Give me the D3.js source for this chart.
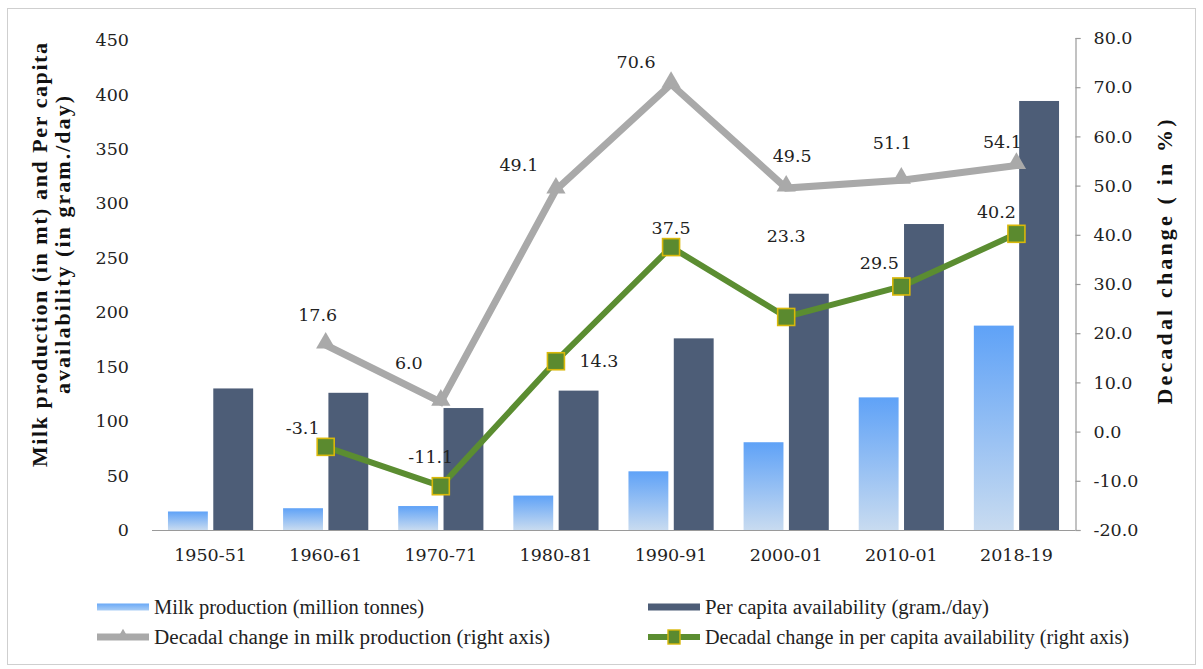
<!DOCTYPE html>
<html>
<head>
<meta charset="utf-8">
<script src="https://cdn.jsdelivr.net/npm/d3@7/dist/d3.min.js"></script>
<style>
  html, body { margin: 0; padding: 0; background: #fff; }
  svg { display: block; }
</style>
</head>
<body>
<svg id="chart" width="1203" height="669"></svg>
<script>
// Milk production and per capita availability in India, with decadal change
const years = ["1950-51", "1960-61", "1970-71", "1980-81", "1990-91", "2000-01", "2010-01", "2018-19"];
const milkProduction = [17.0, 20.0, 22.0, 31.6, 53.9, 80.6, 121.8, 187.7];
const perCapita = [130, 126, 112, 128, 176, 217, 281, 394];
const changeProduction = [null, 17.6, 6.0, 49.1, 70.6, 49.5, 51.1, 54.1];
const changePerCapita = [null, -3.1, -11.1, 14.3, 37.5, 23.3, 29.5, 40.2];
const leftTicks = [0, 50, 100, 150, 200, 250, 300, 350, 400, 450];
const rightTicks = [-20, -10, 0, 10, 20, 30, 40, 50, 60, 70, 80];

// label offsets (dx, dy) relative to each point, per series
const prodLabelOffset = [null, [-8, -30], [-32, -39], [-37, -25], [-35, -22], [6, -32], [-9, -37], [-14, -24]];
const capLabelOffset = [null, [-23, -19], [-10, -29], [43, 0], [0, -19], [0, -81], [-22, -24], [-20, -22]];

const svg = d3.select("#chart");
const tickFont = "'DejaVu Serif', serif";
const tickSize = 17.5;

const x = d3.scaleBand().domain(years).range([153, 1074]).paddingInner(0.26).paddingOuter(0.13);
const xCenter = d => x(d) + x.bandwidth() / 2;
const sub = d3.scaleBand().domain(["milk", "cap"]).range([0, x.bandwidth()]).paddingInner(0.12);
const yL = d3.scaleLinear().domain([0, 450]).range([530, 40]);
const yR = d3.scaleLinear().domain([-20, 80]).range([530, 38]);

// one-decimal format with a plain hyphen for negatives
const fmt1 = v => d3.format(".1f")(v).replace("\u2212", "-");

// outer frame
svg.append("rect").attr("x", 7.5).attr("y", 8.5).attr("width", 1188).attr("height", 656)
  .attr("fill", "none").attr("stroke", "#cfcfcf").attr("stroke-width", 1);

// gradient for milk production bars
const defs = svg.append("defs");
const grad = defs.append("linearGradient").attr("id", "milkGrad")
  .attr("x1", 0).attr("y1", 0).attr("x2", 0).attr("y2", 1);
grad.append("stop").attr("offset", "0%").attr("stop-color", "#5fa2f7");
grad.append("stop").attr("offset", "100%").attr("stop-color", "#c8dbf0");
const gradH = defs.append("linearGradient").attr("id", "milkGradLegend")
  .attr("x1", 0).attr("y1", 0).attr("x2", 0).attr("y2", 1);
gradH.append("stop").attr("offset", "0%").attr("stop-color", "#6aa9f7");
gradH.append("stop").attr("offset", "100%").attr("stop-color", "#a9cdf5");

// bars
const groups = svg.append("g").selectAll("g").data(years).join("g")
  .attr("transform", d => `translate(${x(d)},0)`);
groups.append("rect")
  .attr("x", sub("milk")).attr("width", sub.bandwidth())
  .attr("y", (d, i) => yL(milkProduction[i]))
  .attr("height", (d, i) => yL(0) - yL(milkProduction[i]))
  .attr("fill", "url(#milkGrad)");
groups.append("rect")
  .attr("x", sub("cap")).attr("width", sub.bandwidth())
  .attr("y", (d, i) => yL(perCapita[i]))
  .attr("height", (d, i) => yL(0) - yL(perCapita[i]))
  .attr("fill", "#4d5d77");

// baseline
svg.append("line").attr("x1", 152).attr("x2", 1075).attr("y1", yL(0) + 0.5).attr("y2", yL(0) + 0.5)
  .attr("stroke", "#9a9a9a").attr("stroke-width", 1.2);

// left axis (labels only)
const leftAxis = svg.append("g").attr("transform", "translate(153,0)")
  .call(d3.axisLeft(yL).tickValues(leftTicks).tickSize(0).tickPadding(24).tickFormat(d3.format("d")));
leftAxis.select(".domain").remove();
leftAxis.selectAll("text").attr("font-family", tickFont).attr("font-size", tickSize).attr("fill", "#222");

// right axis
const rightAxis = svg.append("g").attr("transform", "translate(1075.5,0)")
  .call(d3.axisRight(yR).tickValues(rightTicks).tickSize(5).tickPadding(13).tickFormat(fmt1));
rightAxis.select(".domain").attr("stroke", "#9a9a9a").attr("stroke-width", 1.2);
rightAxis.selectAll(".tick line").attr("stroke", "#9a9a9a").attr("stroke-width", 1.2);
rightAxis.selectAll("text").attr("font-family", tickFont).attr("font-size", tickSize).attr("fill", "#222");

// bottom category labels
const bottomAxis = svg.append("g").attr("transform", `translate(0,${yL(0)})`)
  .call(d3.axisBottom(x).tickSize(0).tickPadding(19));
bottomAxis.select(".domain").remove();
bottomAxis.selectAll("text").attr("font-family", tickFont).attr("font-size", tickSize).attr("fill", "#222");

// axis titles
const titleFont = "'Liberation Serif', serif";
svg.append("text")
  .attr("transform", "translate(47,255) rotate(-90)")
  .attr("text-anchor", "middle")
  .attr("font-family", titleFont).attr("font-weight", "bold").attr("font-size", 22)
  .attr("fill", "#111")
  .attr("textLength", 424).attr("lengthAdjust", "spacing")
  .text("Milk production (in mt) and Per capita");
svg.append("text")
  .attr("transform", "translate(70,245) rotate(-90)")
  .attr("text-anchor", "middle")
  .attr("font-family", titleFont).attr("font-weight", "bold").attr("font-size", 22)
  .attr("fill", "#111")
  .attr("textLength", 298).attr("lengthAdjust", "spacing")
  .text("availability (in gram./day)");
svg.append("text")
  .attr("transform", "translate(1172,262) rotate(-90)")
  .attr("text-anchor", "middle")
  .attr("font-family", titleFont).attr("font-weight", "bold").attr("font-size", 22)
  .attr("fill", "#111")
  .attr("textLength", 285).attr("lengthAdjust", "spacing")
  .text("Decadal change ( in %)");

// lines
const prodPts = years.map((d, i) => ({ d, v: changeProduction[i], i })).filter(p => p.v !== null);
const capPts = years.map((d, i) => ({ d, v: changePerCapita[i], i })).filter(p => p.v !== null);
const line = d3.line().x(p => xCenter(p.d)).y(p => yR(p.v));

svg.append("path").datum(prodPts).attr("d", line)
  .attr("fill", "none").attr("stroke", "#a9a9a9").attr("stroke-width", 7).attr("stroke-linejoin", "miter");
const tri = d3.symbol().type(d3.symbolTriangle).size(160);
svg.append("g").selectAll("path").data(prodPts).join("path")
  .attr("d", tri).attr("transform", p => `translate(${xCenter(p.d)},${yR(p.v) - 2})`)
  .attr("fill", "#a9a9a9");

svg.append("path").datum(capPts).attr("d", line)
  .attr("fill", "none").attr("stroke", "#5b8d31").attr("stroke-width", 6).attr("stroke-linejoin", "round");
svg.append("g").selectAll("rect").data(capPts).join("rect")
  .attr("x", p => xCenter(p.d) - 8.5).attr("y", p => yR(p.v) - 8.5)
  .attr("width", 17).attr("height", 17)
  .attr("fill", "#5b8a2f").attr("stroke", "#d9b80a").attr("stroke-width", 1.6);

// data labels
svg.append("g").selectAll("text").data(prodPts).join("text")
  .attr("x", p => xCenter(p.d) + prodLabelOffset[p.i][0])
  .attr("y", p => yR(p.v) + prodLabelOffset[p.i][1])
  .attr("dy", "0.35em").attr("text-anchor", "middle")
  .attr("font-family", tickFont).attr("font-size", tickSize).attr("fill", "#222")
  .text(p => fmt1(p.v));
svg.append("g").selectAll("text").data(capPts).join("text")
  .attr("x", p => xCenter(p.d) + capLabelOffset[p.i][0])
  .attr("y", p => yR(p.v) + capLabelOffset[p.i][1])
  .attr("dy", "0.35em").attr("text-anchor", "middle")
  .attr("font-family", tickFont).attr("font-size", tickSize).attr("fill", "#222")
  .text(p => fmt1(p.v));

// legend
const legendFont = "'Liberation Serif', serif";
const legend = svg.append("g");
const legItems = [
  { label: "Milk production (million tonnes)", x: 97, y: 607, kind: "milk", w: 270 },
  { label: "Per capita availability (gram./day)", x: 648, y: 607, kind: "cap", w: 284 },
  { label: "Decadal change in milk production (right axis)", x: 97, y: 637, kind: "prod", w: 396 },
  { label: "Decadal change in per capita availability (right axis)", x: 648, y: 637, kind: "capline", w: 424 }
];
legItems.forEach(it => {
  const g = legend.append("g").attr("transform", `translate(${it.x},${it.y})`);
  if (it.kind === "milk") {
    g.append("rect").attr("x", 0).attr("y", -3.5).attr("width", 52).attr("height", 7).attr("fill", "url(#milkGradLegend)");
  } else if (it.kind === "cap") {
    g.append("rect").attr("x", 0).attr("y", -3.5).attr("width", 52).attr("height", 7).attr("fill", "#4d5d77");
  } else if (it.kind === "prod") {
    g.append("line").attr("x1", 0).attr("x2", 52).attr("y1", 0).attr("y2", 0)
      .attr("stroke", "#a9a9a9").attr("stroke-width", 7);
    g.append("path").attr("d", d3.symbol().type(d3.symbolTriangle).size(70)).attr("transform", "translate(26,-1)")
      .attr("fill", "#a9a9a9");
  } else {
    g.append("line").attr("x1", 0).attr("x2", 52).attr("y1", 0).attr("y2", 0)
      .attr("stroke", "#5b8d31").attr("stroke-width", 6);
    g.append("rect").attr("x", 20).attr("y", -7).attr("width", 12).attr("height", 14)
      .attr("fill", "#5b8a2f").attr("stroke", "#d9b80a").attr("stroke-width", 1.4);
  }
  g.append("text").attr("x", 57).attr("y", 0).attr("dy", "0.33em")
    .attr("font-family", legendFont).attr("font-size", 20).attr("fill", "#222")
    .attr("textLength", it.w).attr("lengthAdjust", "spacingAndGlyphs")
    .text(it.label);
});
</script>
</body>
</html>
